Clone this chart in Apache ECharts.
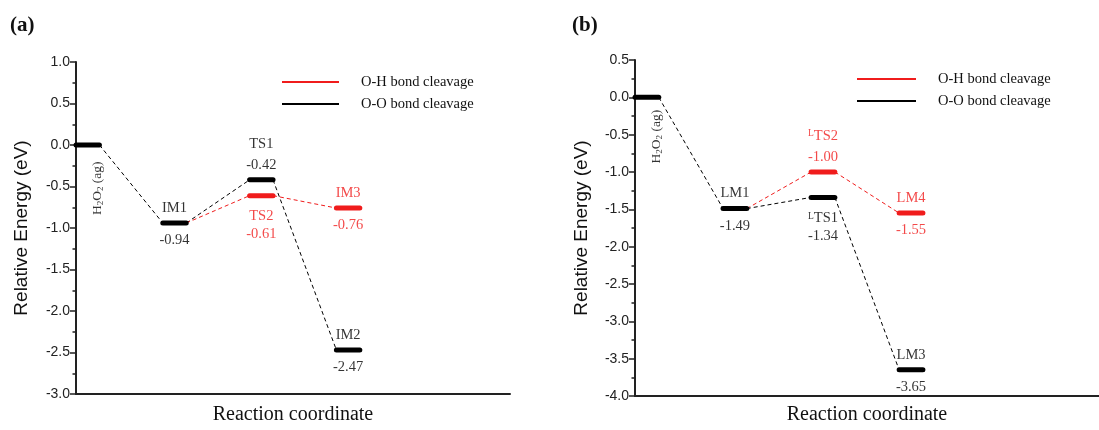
<!DOCTYPE html>
<html><head><meta charset="utf-8">
<script src="https://cdn.jsdelivr.net/npm/echarts@6/dist/echarts.min.js"></script>
<style>html,body{margin:0;padding:0;background:#fff}#c{width:1099px;height:430px}</style>
</head><body><div id="c"></div>
<script>
// ---------- data ----------
const pathNames = { 'O-H': 'O-H bond cleavage', 'O-O': 'O-O bond cleavage' };

// Panel (a)
const aLevelNames = ['H₂O₂ (ag)', 'IM1', 'TS1', 'TS2', 'IM3', 'IM2'];
const aLevelSlots = [0, 1, 2, 2, 3, 3];
const aLevelEnergies = [0.00, -0.94, -0.42, -0.61, -0.76, -2.47];
const aLevelPaths = ['O-O', 'O-O', 'O-O', 'O-H', 'O-H', 'O-O'];
const aLinkFrom = [0, 1, 1, 2, 3];
const aLinkTo = [1, 2, 3, 5, 4];
const aLinkPaths = ['O-O', 'O-O', 'O-H', 'O-O', 'O-H'];
const aYRange = [-3.0, 1.0];
const aYStep = 0.5;

// Panel (b)
const bLevelNames = ['H₂O₂ (ag)', 'LM1', 'ᴸTS2', 'ᴸTS1', 'LM4', 'LM3'];
const bLevelSlots = [0, 1, 2, 2, 3, 3];
const bLevelEnergies = [0.00, -1.49, -1.00, -1.34, -1.55, -3.65];
const bLevelPaths = ['O-O', 'O-O', 'O-H', 'O-O', 'O-H', 'O-O'];
const bLinkFrom = [0, 1, 1, 2, 3];
const bLinkTo = [1, 2, 3, 4, 5];
const bLinkPaths = ['O-O', 'O-H', 'O-O', 'O-H', 'O-O'];
const bYRange = [-4.0, 0.5];
const bYStep = 0.5;

// ---------- styling / layout ----------
const RED = '#f01c1c', BLACK = '#000';
const pathColor = { 'O-H': RED, 'O-O': BLACK };
const SERIF = '"Liberation Serif", "Times New Roman", serif';
const SANS = '"Liberation Sans", Arial, sans-serif';
const LEVEL_W = 0.27;
// where each level's labels go: rot = vertical text below, split = name above / value below,
// above = name+value stacked above, below = name+value stacked below
const aLabelLayout = ['rot', 'split', 'above', 'below', 'split', 'split'];
const bLabelLayout = ['rot', 'split', 'above', 'below', 'split', 'split'];

function rt(s) { return s.replace(/ᴸ/g, '{sup|L}').replace(/₂/g, '{sub|2}'); }

function supStyle(col, pad) {
  return { sup: { color: col, fontSize: 9.5, verticalAlign: 'top', padding: [pad, 0, 0, 0], fontFamily: SERIF } };
}

function buildPanel(gi, names, slots, energies, paths, lf, lt, lp, layout, rotDist, rotOffset) {
  const series = [];
  names.forEach((n, i) => {
    series.push({
      type: 'line', name: pathNames[paths[i]], xAxisIndex: gi, yAxisIndex: gi,
      data: [[slots[i], energies[i]], [slots[i] + LEVEL_W, energies[i]]],
      symbol: 'none', silent: true, z: 3,
      itemStyle: { color: pathColor[paths[i]] },
      lineStyle: { color: pathColor[paths[i]], width: 5, cap: 'round' }
    });
  });
  lf.forEach((f, k) => {
    const t = lt[k];
    series.push({
      type: 'line', name: pathNames[lp[k]], xAxisIndex: gi, yAxisIndex: gi,
      data: [[slots[f] + LEVEL_W, energies[f]], [slots[t], energies[t]]],
      symbol: 'none', silent: true, z: 2,
      itemStyle: { color: pathColor[lp[k]] },
      lineStyle: { color: pathColor[lp[k]], width: 1, type: [4, 3] }
    });
  });
  const topData = [], botData = [];
  names.forEach((n, i) => {
    const v = [slots[i] + LEVEL_W / 2, energies[i]];
    const val = energies[i].toFixed(2);
    const col = pathColor[paths[i]];
    const L = layout[i];
    let top = { value: v, label: { show: false } };
    let bot = { value: v, label: { show: false } };
    if (L === 'split') {
      top.label = { show: true, color: col, formatter: rt(n), distance: 4, rich: supStyle(col, 3) };
      bot.label = { show: true, color: col, formatter: val, distance: 8 };
    } else if (L === 'above') {
      top.label = { show: true, color: col, formatter: rt(n) + '\n' + val, distance: 4, rich: supStyle(col, 3) };
    } else if (L === 'below') {
      bot.label = { show: true, color: col, formatter: rt(n) + '\n' + val, distance: 11, rich: supStyle(col, 2.5) };
    } else if (L === 'rot') {
      bot.label = {
        show: true, color: col, formatter: rt(n), rotate: 90, align: 'right', verticalAlign: 'middle',
        distance: rotDist, offset: rotOffset, fontSize: 13.5, lineHeight: 14,
        rich: { sub: { fontSize: 9, lineHeight: 6, verticalAlign: 'bottom', fontFamily: SERIF, color: col } }
      };
    }
    topData.push(top); botData.push(bot);
  });
  series.push({
    type: 'scatter', xAxisIndex: gi, yAxisIndex: gi, data: topData, symbolSize: 1, silent: true,
    itemStyle: { color: 'rgba(0,0,0,0)' }, z: 5,
    label: { position: 'top', fontFamily: SERIF, fontSize: 14.5, lineHeight: 21 }
  });
  series.push({
    type: 'scatter', xAxisIndex: gi, yAxisIndex: gi, data: botData, symbolSize: 1, silent: true,
    itemStyle: { color: 'rgba(0,0,0,0)' }, z: 5,
    label: { position: 'bottom', fontFamily: SERIF, fontSize: 14.5, lineHeight: 18 }
  });
  return series;
}

function xAxis(gi, max, gap) {
  return {
    type: 'value', gridIndex: gi, min: 0, max: max,
    name: 'Reaction coordinate', nameLocation: 'middle', nameGap: gap,
    nameTextStyle: { fontFamily: SERIF, fontSize: 20, color: '#111' },
    axisLine: { show: true, onZero: false, lineStyle: { color: '#222', width: 2 } },
    axisTick: { show: false }, axisLabel: { show: false }, splitLine: { show: false }
  };
}
function yAxis(gi, range, step, gap) {
  return {
    type: 'value', gridIndex: gi, min: range[0], max: range[1], interval: step,
    name: 'Relative Energy (eV)', nameLocation: 'middle', nameGap: gap, nameRotate: 90,
    nameTextStyle: { fontFamily: SANS, fontSize: 19, color: '#111' },
    axisLine: { show: true, onZero: false, lineStyle: { color: '#222', width: 2 } },
    axisTick: { show: true, inside: false, length: 6, lineStyle: { color: '#222', width: 1.5 } },
    minorTick: { show: true, splitNumber: 2, length: 3.5, lineStyle: { color: '#222', width: 1.5 } },
    axisLabel: { fontFamily: SANS, fontSize: 14, color: '#222', margin: 6, formatter: v => v.toFixed(1) },
    splitLine: { show: false }
  };
}
function legend(left, top, iw) {
  return {
    left: left, top: top, orient: 'vertical', itemWidth: iw, itemHeight: 2, itemGap: 6, icon: 'rect',
    selectedMode: false,
    data: [
      { name: pathNames['O-H'], itemStyle: { color: RED } },
      { name: pathNames['O-O'], itemStyle: { color: BLACK } }
    ],
    textStyle: { fontFamily: SERIF, fontSize: 14.5, color: '#111', lineHeight: 16, padding: [0, 0, 0, 17] }
  };
}

const chart = echarts.init(document.getElementById('c'), null, { renderer: 'canvas' });
chart.setOption({
  animation: false,
  backgroundColor: '#fff',
  title: [
    { text: '(a)', left: 5, top: 10, textStyle: { fontFamily: SERIF, fontWeight: 'bold', fontSize: 21, color: '#111' } },
    { text: '(b)', left: 567, top: 10, textStyle: { fontFamily: SERIF, fontWeight: 'bold', fontSize: 21, color: '#111' } }
  ],
  legend: [legend(277, 69, 57), legend(852, 66, 59)],
  grid: [
    { left: 76, top: 62, width: 434, height: 337 },
    { left: 635, top: 60, width: 464, height: 342 }
  ],
  xAxis: [xAxis(0, 5.0, 11), xAxis(1, 5.27, 9)],
  yAxis: [yAxis(0, aYRange, aYStep, 45), yAxis(1, bYRange, bYStep, 44)],
  series: [].concat(
    buildPanel(0, aLevelNames, aLevelSlots, aLevelEnergies, aLevelPaths, aLinkFrom, aLinkTo, aLinkPaths, aLabelLayout, 12, [-4, 10]),
    buildPanel(1, bLevelNames, bLevelSlots, bLevelEnergies, bLevelPaths, bLinkFrom, bLinkTo, bLinkPaths, bLabelLayout, 9, [-3, 10])
  )
});
</script></body></html>
